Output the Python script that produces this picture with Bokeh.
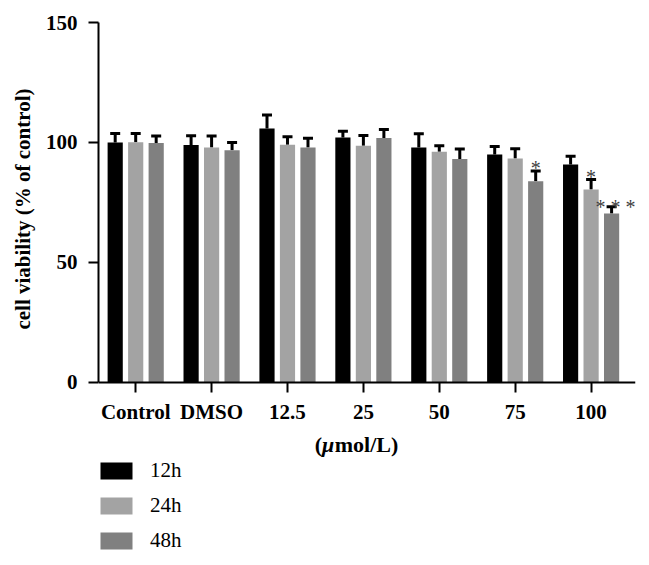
from bokeh.plotting import figure
from bokeh.models import (ColumnDataSource, Range1d, FixedTicker, Whisker, TeeHead,
                          Legend, LegendItem, Title, Label)
from bokeh.transform import dodge
from bokeh.core.properties import value
from bokeh.embed import file_html
from bokeh.resources import INLINE

# ---- data ----
categories = ["Control", "DMSO", "12.5", "25", "50", "75", "100"]
series_names = ["12h", "24h", "48h"]
v12 = [100.0, 98.9, 105.8, 102.0, 97.9, 95.0, 90.8]
e12 = [3.7, 3.9, 5.6, 2.6, 5.7, 3.3, 3.4]
v24 = [100.1, 97.9, 99.0, 98.6, 96.1, 93.3, 80.4]
e24 = [3.6, 4.8, 3.4, 4.3, 2.5, 4.1, 4.1]
v48 = [99.8, 96.7, 97.9, 101.8, 93.1, 83.8, 70.4]
e48 = [2.9, 3.3, 3.8, 3.6, 4.1, 4.3, 2.8]
# significance marks: (category index, series index, label)
sig_cat = [5, 6, 6]
sig_series = [2, 1, 2]
sig_label = ["*", "*", "* * *"]
y_ticks = [0, 50, 100, 150]
y_title = "cell viability (% of control)"
x_title_parts = ["(", "μ", "mol/L)"]

colors = ["#000000", "#a3a3a3", "#808080"]
offsets = [-0.27, 0.0, 0.27]
FONT = "Liberation Serif"

x_idx = list(range(len(categories)))

p = figure(width=641, height=557, output_backend="svg", toolbar_location=None,
           x_range=Range1d(-0.49, 6.585), y_range=Range1d(-73.1, 150),
           min_border_left=98, min_border_right=6, min_border_top=22,
           min_border_bottom=0)
p.outline_line_color = None
p.grid.visible = False
p.background_fill_color = "white"

legend_items = []
vals = [v12, v24, v48]
errs = [e12, e24, e48]
for i, (vs, es) in enumerate(zip(vals, errs)):
    src = ColumnDataSource(dict(x=x_idx, top=vs,
                                upper=[a + b for a, b in zip(vs, es)]))
    r = p.vbar(x=dodge("x", offsets[i], range=p.x_range), top="top", bottom=0,
               width=0.2, source=src, fill_color=colors[i], line_color=None)
    legend_items.append(LegendItem(label=series_names[i], renderers=[r]))
    w = Whisker(source=src, base=dodge("x", offsets[i], range=p.x_range),
                upper="upper", lower="top", dimension="height",
                line_color="black", line_width=3, lower_head=None,
                upper_head=TeeHead(size=10, line_width=3, line_color="black"))
    p.add_layout(w)

# significance stars
sx, sy, xo, yo = [], [], [], []
for c, s, lab in zip(sig_cat, sig_series, sig_label):
    sx.append(c + offsets[s])
    sy.append(vals[s][c] + errs[s][c])
    xo.append(4 if len(lab) > 1 else 0)
    yo.append(0 if len(lab) > 1 else -3)
star_src = ColumnDataSource(dict(x=sx, y=sy, t=sig_label, xo=xo, yo=yo))
p.text(x="x", y="y", text="t", source=star_src, x_offset="xo", y_offset="yo",
       text_align="center", text_baseline="alphabetic",
       text_font=value(FONT), text_font_size="20px", text_color="#404040")

# axes
for ax in (p.xaxis[0], p.yaxis[0]):
    ax.axis_line_width = 2
    ax.major_tick_line_width = 2
    ax.major_tick_out = 10
    ax.major_tick_in = 0
    ax.minor_tick_line_color = None
    ax.major_label_text_font = FONT
    ax.major_label_text_font_style = "bold"
    ax.major_label_text_font_size = "21px"
    ax.major_label_text_color = "black"

p.yaxis[0].ticker = FixedTicker(ticks=y_ticks)
p.yaxis[0].bounds = (0, 150)
p.yaxis[0].major_label_standoff = 11

p.add_layout(Title(text=y_title, align="right", offset=66, standoff=16,
                   text_font=FONT, text_font_style="bold",
                   text_font_size="21px", text_color="black"), "left")

p.xaxis[0].fixed_location = 0
p.xaxis[0].ticker = FixedTicker(ticks=x_idx)
p.xaxis[0].major_label_overrides = {i: c for i, c in enumerate(categories)}
p.xaxis[0].major_label_standoff = 8

# x-axis title "(μmol/L)" with italic μ
x_title_shift = [-41.8, -34.5, -21.8]
for part, dx in zip(x_title_parts, x_title_shift):
    p.add_layout(Label(x=2.909, y=0, x_offset=dx, y_offset=-62, text=part,
                       text_align="left", text_baseline="middle",
                       text_font=FONT, text_font_size="22px",
                       text_font_style="bold italic" if part == "μ" else "bold",
                       text_color="black"))

legend = Legend(items=legend_items, location=(-2, 4), orientation="vertical",
                glyph_width=40, glyph_height=21, label_height=22,
                label_standoff=14, spacing=10, padding=0, margin=0,
                label_text_font=FONT, label_text_font_size="21px",
                label_text_color="black",
                border_line_color=None, background_fill_alpha=0)
p.add_layout(legend, "center")

with open("out.html", "w") as f:
    f.write(file_html(p, INLINE))
